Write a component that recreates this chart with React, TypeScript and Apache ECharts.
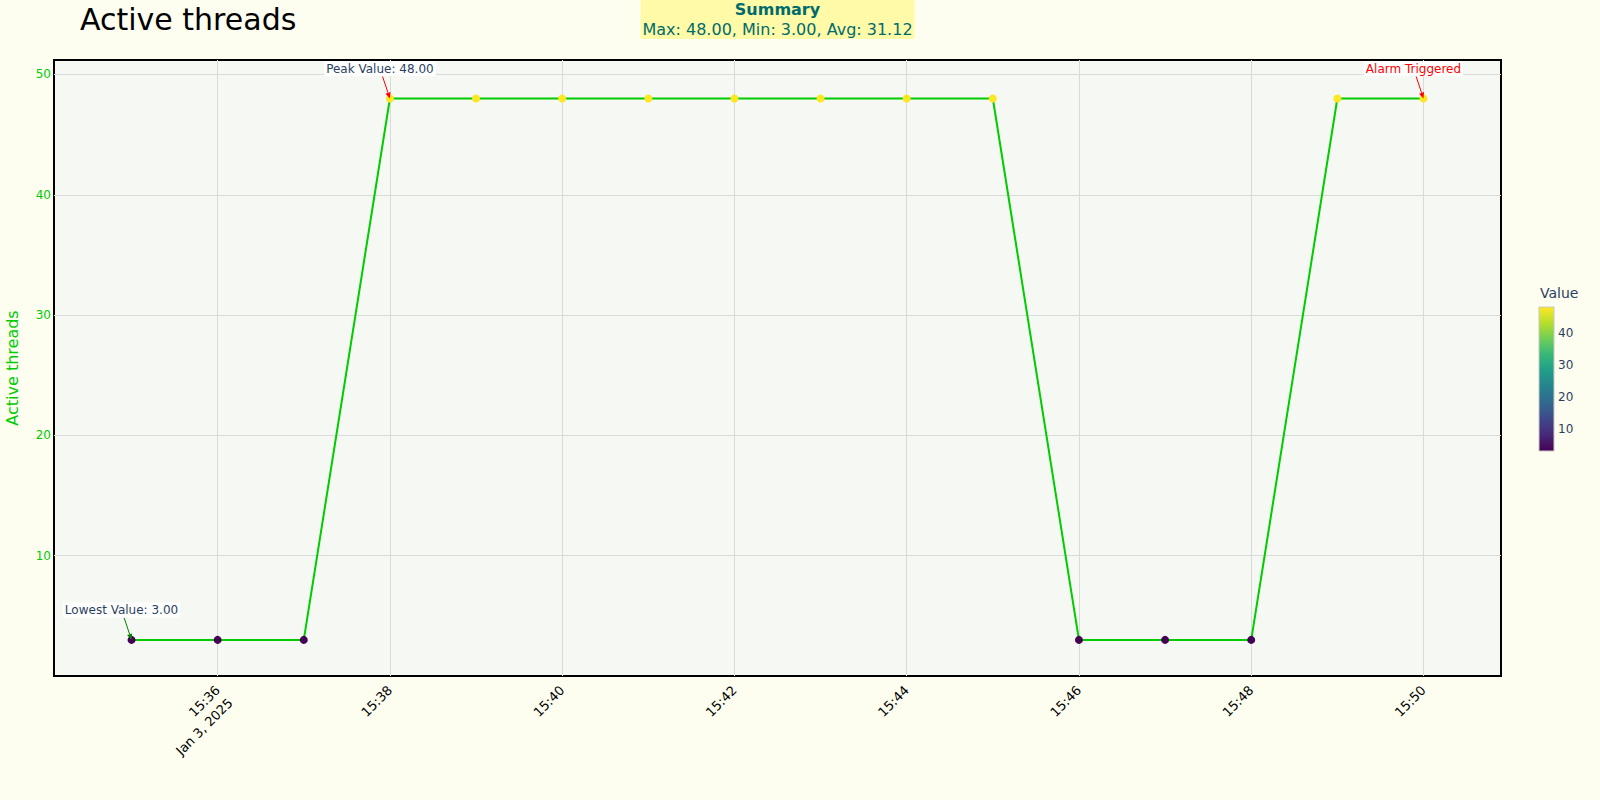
import React, { useEffect, useRef } from 'react';
import * as echarts from 'echarts';

// ---- data ----
const times: string[] = [
  '2025-01-03T15:35:00', '2025-01-03T15:36:00', '2025-01-03T15:37:00', '2025-01-03T15:38:00',
  '2025-01-03T15:39:00', '2025-01-03T15:40:00', '2025-01-03T15:41:00', '2025-01-03T15:42:00',
  '2025-01-03T15:43:00', '2025-01-03T15:44:00', '2025-01-03T15:45:00', '2025-01-03T15:46:00',
  '2025-01-03T15:47:00', '2025-01-03T15:48:00', '2025-01-03T15:49:00', '2025-01-03T15:50:00',
];
const values: number[] = [3, 3, 3, 48, 48, 48, 48, 48, 48, 48, 48, 3, 3, 3, 48, 48];

const xTickTimes: string[] = [
  '2025-01-03T15:36:00', '2025-01-03T15:38:00', '2025-01-03T15:40:00', '2025-01-03T15:42:00',
  '2025-01-03T15:44:00', '2025-01-03T15:46:00', '2025-01-03T15:48:00', '2025-01-03T15:50:00',
];
const xTickLabels: string[] = ['15:36\nJan 3, 2025', '15:38', '15:40', '15:42', '15:44', '15:46', '15:48', '15:50'];
const xRange: string[] = ['2025-01-03T15:34:06', '2025-01-03T15:50:54'];

const yTicks: number[] = [10, 20, 30, 40, 50];
const yRange: number[] = [0, 51.2];

const colorbarTicks: number[] = [10, 20, 30, 40];
const colorbarRange: number[] = [3, 48];

const summaryTitle = 'Summary';
const summaryText = 'Max: 48.00, Min: 3.00, Avg: 31.12';

const annotations = [
  { time: '2025-01-03T15:38:00', value: 48, text: 'Peak Value: 48.00', textColor: '#2a3f5f', arrowColor: '#ff0000' },
  { time: '2025-01-03T15:50:00', value: 48, text: 'Alarm Triggered', textColor: '#ff0000', arrowColor: '#ff0000' },
  { time: '2025-01-03T15:35:00', value: 3, text: 'Lowest Value: 3.00', textColor: '#2a3f5f', arrowColor: '#008000' },
];

const viridis = ['#440154', '#482878', '#3e4989', '#31688e', '#26828e', '#1f9e89', '#35b779', '#6ece58', '#b5de2b', '#fde725'];

// ---- style ----
const FONT = '"DejaVu Sans", sans-serif';
const PAPER = '#fefef0';
const PLOT_BG = '#f6f8f3';
const GRID_COLOR = '#dadada';
const GREEN = '#00cc00';
const W = 1600;
const H = 800;
const GRID_L = 54, GRID_T = 60, GRID_R = 99, GRID_B = 124;

const ts = (s: string) => new Date(s).getTime();

export default function App() {
  const ref = useRef<HTMLDivElement>(null);

  useEffect(() => {
    document.body.style.margin = '0';
    document.body.style.background = PAPER;
    if (!ref.current) return;
    const chart = echarts.init(ref.current, null, { renderer: 'svg' });

    const tickTs = xTickTimes.map(ts);
    const labelMap: Record<number, string> = {};
    tickTs.forEach((t, i) => {
      const lbl = xTickLabels[i];
      // a blank leading line keeps the first line centred on the tick like the single-line labels
      labelMap[t] = lbl.includes('\n') ? ' \n' + lbl : lbl;
    });
    const points = times.map((t, i) => [ts(t), values[i]]);

    const barStops = viridis
      .map((c, i) => ({ offset: 1 - i / (viridis.length - 1), color: c }))
      .reverse();

    chart.setOption({
      animation: false,
      backgroundColor: PAPER,
      textStyle: { fontFamily: FONT },
      title: [
        {
          text: 'Active threads', left: 80, top: 4, padding: 0,
          textStyle: { fontSize: 30, fontWeight: 'normal', color: '#000', fontFamily: FONT },
        },
        {
          text: 'Value', left: 1540, top: 286, padding: 0,
          textStyle: { fontSize: 14, fontWeight: 'normal', color: '#2a3f5f', fontFamily: FONT },
        },
      ],
      grid: [
        {
          left: GRID_L, top: GRID_T, right: GRID_R, bottom: GRID_B,
          show: true, borderColor: '#000', borderWidth: 2, backgroundColor: PLOT_BG,
          containLabel: false, outerBoundsMode: 'none',
        },
        {
          left: 1539, top: 307, width: 15, height: 144,
          show: true, borderColor: '#c8c8c8', borderWidth: 1,
          backgroundColor: new echarts.graphic.LinearGradient(0, 0, 0, 1, barStops),
          containLabel: false, outerBoundsMode: 'none',
        },
      ],
      xAxis: [
        {
          type: 'value', gridIndex: 0, min: ts(xRange[0]), max: ts(xRange[1]),
          axisLine: { show: false },
          axisTick: { show: false, customValues: tickTs },
          splitLine: { show: true, lineStyle: { color: GRID_COLOR, width: 1 } },
          axisLabel: {
            customValues: tickTs, rotate: 45, margin: 12,
            formatter: (v: number) => labelMap[v] ?? '',
            color: '#000', fontSize: 13, fontFamily: FONT, lineHeight: 18,
          },
        },
        { type: 'value', gridIndex: 1, show: false, min: 0, max: 1 },
      ],
      yAxis: [
        {
          type: 'value', gridIndex: 0, min: yRange[0], max: yRange[1],
          name: 'Active threads', nameLocation: 'middle', nameGap: 34,
          nameTextStyle: { color: GREEN, fontSize: 16, fontFamily: FONT },
          axisLine: { show: false },
          axisTick: { show: false, customValues: yTicks },
          splitLine: { show: true, lineStyle: { color: GRID_COLOR, width: 1 } },
          axisLabel: { customValues: yTicks, color: GREEN, fontSize: 12, margin: 3, fontFamily: FONT },
        },
        {
          type: 'value', gridIndex: 1, min: colorbarRange[0], max: colorbarRange[1], position: 'right',
          axisLine: { show: false }, axisTick: { show: false }, splitLine: { show: false },
          axisLabel: { customValues: colorbarTicks, color: '#2a3f5f', fontSize: 12, margin: 4, fontFamily: FONT },
        },
      ],
      visualMap: [
        {
          type: 'continuous', seriesIndex: 1, dimension: 1, show: false,
          min: colorbarRange[0], max: colorbarRange[1],
          inRange: { color: viridis },
        },
      ],
      series: [
        {
          type: 'line', xAxisIndex: 0, yAxisIndex: 0, data: points,
          showSymbol: false, lineStyle: { color: GREEN, width: 2 }, itemStyle: { color: GREEN },
          z: 2, silent: true,
        },
        {
          type: 'scatter', xAxisIndex: 0, yAxisIndex: 0, data: points,
          symbolSize: 8, z: 3, itemStyle: { opacity: 1 },
        },
      ],
    });

    // annotations placed through the chart's own scales
    const AX = -10, AY = -30, HALF_H = 8;
    const graphics: any[] = [];
    annotations.forEach((a) => {
      const p = chart.convertToPixel({ xAxisIndex: 0, yAxisIndex: 0 }, [ts(a.time), a.value]) as number[];
      const px = p[0], py = p[1];
      const cx = px + AX, cy = py + AY;
      const k = 1 - HALF_H / Math.abs(AY);
      const tx = px + AX * k, ty = py + AY * k;
      const len = Math.hypot(px - tx, py - ty);
      const ux = (px - tx) / len, uy = (py - ty) / len;
      const hl = 6, hw = 2.6;
      const bx = px - ux * hl, by = py - uy * hl;
      graphics.push({
        type: 'line', z: 100,
        shape: { x1: tx, y1: ty, x2: bx, y2: by },
        style: { stroke: a.arrowColor, lineWidth: 1 },
      });
      graphics.push({
        type: 'polygon', z: 100,
        shape: { points: [[px, py], [bx - uy * hw, by + ux * hw], [bx + uy * hw, by - ux * hw]] },
        style: { fill: a.arrowColor },
      });
      graphics.push({
        type: 'text', z: 101, x: cx, y: cy,
        style: {
          text: a.text, fill: a.textColor, font: `12px ${FONT}`,
          align: 'center', verticalAlign: 'middle', backgroundColor: '#ffffff', padding: [2, 2, 1, 2],
        },
      });
    });
    const centerX = GRID_L + (W - GRID_L - GRID_R) / 2;
    graphics.push({
      type: 'text', z: 101, x: centerX, y: -1,
      style: {
        text: `{b|${summaryTitle}}\n{n|${summaryText}}`,
        align: 'center', verticalAlign: 'top',
        backgroundColor: '#fffaa8', padding: [0, 2, 0, 2],
        rich: {
          b: { fontFamily: FONT, fontSize: 16, fontWeight: 'bold', fill: '#006b6b', lineHeight: 20 },
          n: { fontFamily: FONT, fontSize: 16, fill: '#006b6b', lineHeight: 20 },
        },
      },
    });
    chart.setOption({ graphic: graphics });

    return () => chart.dispose();
  }, []);

  return (
    <div
      ref={ref}
      style={{ position: 'fixed', left: 0, top: 0, width: W, height: H, background: PAPER }}
    />
  );
}
